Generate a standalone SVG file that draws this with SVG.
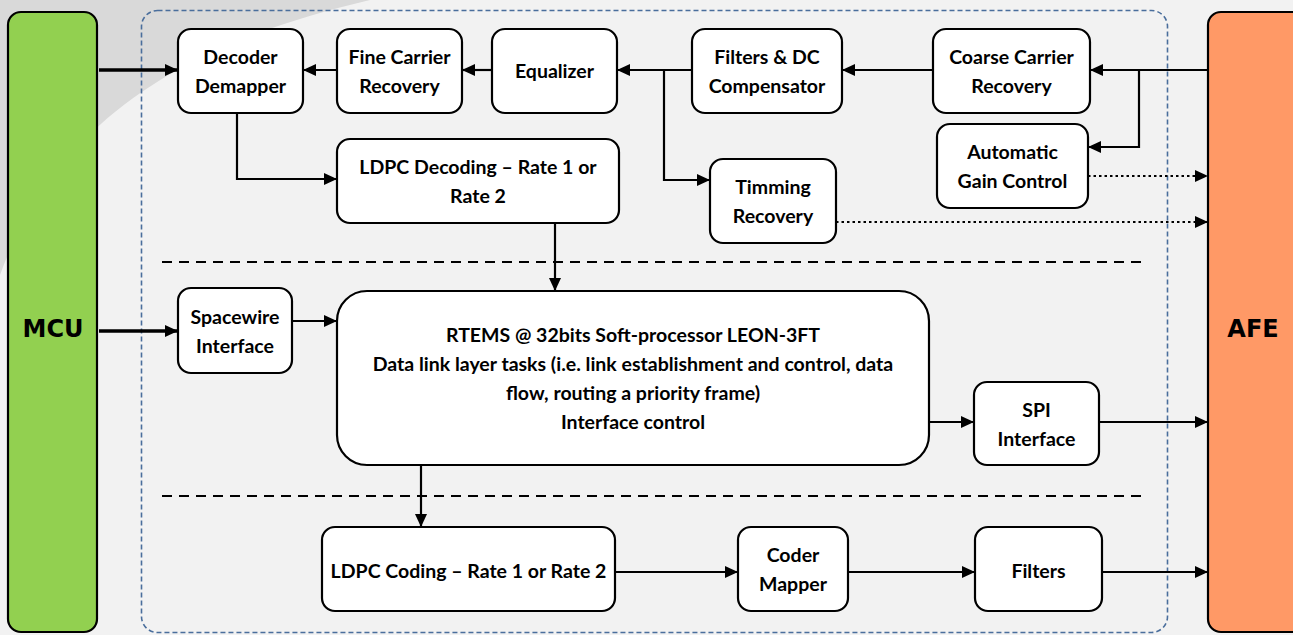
<svg xmlns="http://www.w3.org/2000/svg" width="1293" height="635" viewBox="0 0 1293 635">
  <defs>
    <marker id="arrow" markerUnits="userSpaceOnUse" markerWidth="14" markerHeight="14" refX="13" refY="7" orient="auto">
      <path d="M0,1 L13,7 L0,13 Z" fill="#000"/>
    </marker>
    <style>
      .box { fill: #ffffff; stroke: #000; stroke-width: 2.2; }
      .lbl { font-family: Lato, "Liberation Sans", sans-serif; font-weight: bold; font-size: 19.5px; fill: #000; text-anchor: middle; }
      .big { font-family: "DejaVu Sans", Verdana, sans-serif; font-weight: bold; font-size: 24px; fill: #000; text-anchor: middle; }
      .wire { fill: none; stroke: #000; stroke-width: 2.2; }
      .thick { stroke-width: 3.5; }
      .dot { stroke-dasharray: 2.5 3; }
      .sep { fill: none; stroke: #000; stroke-width: 2; stroke-dasharray: 10 7; }
    </style>
  </defs>

  <!-- background -->
  <rect x="0" y="0" width="1293" height="635" fill="#f2f2f2"/>
  <path d="M0,0 L370,0 C200,40 60,110 0,275 Z" fill="#d9d9d9"/>

  <!-- FPGA boundary -->
  <rect x="141.5" y="10.5" width="1026" height="622" rx="16" fill="none" stroke="#4a6e9c" stroke-width="1.6" stroke-dasharray="5 3"/>

  <!-- section separators -->
  <line class="sep" x1="162" y1="262" x2="1143" y2="262"/>
  <line class="sep" x1="162" y1="496" x2="1143" y2="496"/>

  <!-- end devices -->
  <g id="mcu">
    <rect x="8" y="12" width="89" height="620" rx="13" fill="#92d050" stroke="#000" stroke-width="2.2"/>
    <text class="big" x="53" y="337">MCU</text>
  </g>
  <g id="afe">
    <rect x="1208" y="12" width="100" height="620" rx="13" fill="#ff9966" stroke="#000" stroke-width="2.2"/>
    <text class="big" x="1253" y="337">AFE</text>
  </g>

  <!-- receive chain -->
  <g id="decoder-demapper">
    <rect class="box" x="178" y="29" width="125" height="84" rx="13"/>
    <text class="lbl" x="240.5" y="64">Decoder</text>
    <text class="lbl" x="240.5" y="93">Demapper</text>
  </g>
  <g id="fine-carrier">
    <rect class="box" x="337" y="29" width="125" height="84" rx="13"/>
    <text class="lbl" x="399.5" y="64">Fine Carrier</text>
    <text class="lbl" x="399.5" y="93">Recovery</text>
  </g>
  <g id="equalizer">
    <rect class="box" x="492" y="29" width="125" height="84" rx="13"/>
    <text class="lbl" x="554.5" y="78">Equalizer</text>
  </g>
  <g id="filters-dc">
    <rect class="box" x="692" y="29" width="150" height="84" rx="13"/>
    <text class="lbl" x="767" y="64">Filters &amp; DC</text>
    <text class="lbl" x="767" y="93">Compensator</text>
  </g>
  <g id="coarse-carrier">
    <rect class="box" x="933" y="29" width="157" height="84" rx="13"/>
    <text class="lbl" x="1011.5" y="64">Coarse Carrier</text>
    <text class="lbl" x="1011.5" y="93">Recovery</text>
  </g>
  <g id="agc">
    <rect class="box" x="937" y="124" width="151" height="84" rx="13"/>
    <text class="lbl" x="1012.5" y="159">Automatic</text>
    <text class="lbl" x="1012.5" y="188">Gain Control</text>
  </g>
  <g id="ldpc-decoding">
    <rect class="box" x="337" y="139" width="282" height="84" rx="13"/>
    <text class="lbl" x="478" y="174">LDPC Decoding – Rate 1 or</text>
    <text class="lbl" x="478" y="203">Rate 2</text>
  </g>
  <g id="timing-recovery">
    <rect class="box" x="710" y="159" width="126" height="84" rx="13"/>
    <text class="lbl" x="773" y="194">Timming</text>
    <text class="lbl" x="773" y="223">Recovery</text>
  </g>

  <!-- processing -->
  <g id="spacewire">
    <rect class="box" x="178" y="288" width="114" height="85" rx="13"/>
    <text class="lbl" x="235" y="324">Spacewire</text>
    <text class="lbl" x="235" y="353">Interface</text>
  </g>
  <g id="leon3">
    <rect class="box" x="337" y="291" width="592" height="174" rx="30"/>
    <text class="lbl" x="633" y="342">RTEMS @ 32bits Soft-processor LEON-3FT</text>
    <text class="lbl" x="633" y="371">Data link layer tasks (i.e. link establishment and control, data</text>
    <text class="lbl" x="633" y="400">flow, routing a priority frame)</text>
    <text class="lbl" x="633" y="429">Interface control</text>
  </g>
  <g id="spi">
    <rect class="box" x="974" y="382" width="125" height="83" rx="13"/>
    <text class="lbl" x="1036.5" y="417">SPI</text>
    <text class="lbl" x="1036.5" y="446">Interface</text>
  </g>

  <!-- transmit chain -->
  <g id="ldpc-coding">
    <rect class="box" x="322" y="527" width="293" height="84" rx="13"/>
    <text class="lbl" x="468.5" y="578">LDPC Coding – Rate 1 or Rate 2</text>
  </g>
  <g id="coder-mapper">
    <rect class="box" x="738" y="527" width="110" height="84" rx="13"/>
    <text class="lbl" x="793" y="562">Coder</text>
    <text class="lbl" x="793" y="591">Mapper</text>
  </g>
  <g id="tx-filters">
    <rect class="box" x="975" y="527" width="127" height="84" rx="13"/>
    <text class="lbl" x="1038.5" y="578">Filters</text>
  </g>

  <!-- connectors -->
  <g id="connectors">
    <path class="wire thick" d="M99,70 H178" marker-end="url(#arrow)"/>
    <path class="wire" d="M337,70 H303" marker-end="url(#arrow)"/>
    <path class="wire" d="M492,70 H462" marker-end="url(#arrow)"/>
    <path class="wire" d="M692,70 H617" marker-end="url(#arrow)"/>
    <path class="wire" d="M664,70 V180 H710" marker-end="url(#arrow)"/>
    <path class="wire" d="M933,70 H842" marker-end="url(#arrow)"/>
    <path class="wire" d="M1208,70 H1090" marker-end="url(#arrow)"/>
    <path class="wire" d="M1139,70 V147 H1088" marker-end="url(#arrow)"/>
    <path class="wire dot" d="M1088,176 H1208" marker-end="url(#arrow)"/>
    <path class="wire dot" d="M836,222 H1208" marker-end="url(#arrow)"/>
    <path class="wire" d="M237,113 V179 H337" marker-end="url(#arrow)"/>
    <path class="wire" d="M555,223 V291" marker-end="url(#arrow)"/>
    <path class="wire thick" d="M99,331 H178" marker-end="url(#arrow)"/>
    <path class="wire" d="M292,321 H337" marker-end="url(#arrow)"/>
    <path class="wire" d="M929,422 H974" marker-end="url(#arrow)"/>
    <path class="wire" d="M1099,422 H1208" marker-end="url(#arrow)"/>
    <path class="wire" d="M421,465 V527" marker-end="url(#arrow)"/>
    <path class="wire" d="M615,572 H738" marker-end="url(#arrow)"/>
    <path class="wire" d="M848,572 H975" marker-end="url(#arrow)"/>
    <path class="wire" d="M1102,572 H1208" marker-end="url(#arrow)"/>
  </g>
</svg>
